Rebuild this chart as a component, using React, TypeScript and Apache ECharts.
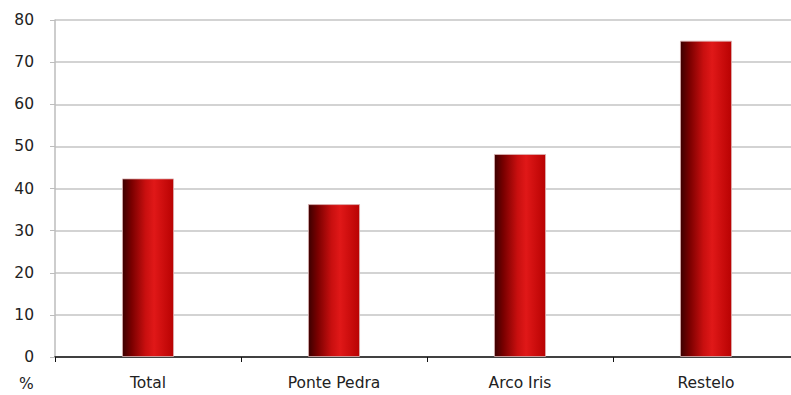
import React, { useEffect, useRef } from "react";
import * as echarts from "echarts";

const categories = ["Total", "Ponte Pedra", "Arco Iris", "Restelo"];
const values = [42.4, 36.3, 48.2, 75.1];
const yTicks = { min: 0, max: 80, interval: 10 };
const unitLabel = "%";

export default function App() {
  const ref = useRef<HTMLDivElement>(null);
  useEffect(() => {
    if (!ref.current) return;
    const chart = echarts.init(ref.current, undefined, { renderer: "svg" });
    const font = "'DejaVu Sans', sans-serif";
    chart.setOption({
      animation: false,
      grid: { left: 55, top: 20, width: 744, height: 337 },
      xAxis: {
        type: "category",
        data: categories,
        axisLine: { lineStyle: { color: "#111", width: 1.5 } },
        axisTick: { show: true, length: 5, lineStyle: { color: "#111" } },
        axisLabel: { color: "#222", fontSize: 15.5, fontFamily: font, margin: 18 },
      },
      yAxis: {
        type: "value",
        min: yTicks.min,
        max: yTicks.max,
        interval: yTicks.interval,
        axisLine: { show: true, lineStyle: { color: "#bdbdbd", width: 1.5 } },
        axisTick: { show: true, length: 5, lineStyle: { color: "#bdbdbd" } },
        axisLabel: { color: "#222", fontSize: 15.5, fontFamily: font, margin: 21 },
        splitLine: { lineStyle: { color: "#c4c4c4", width: 1.5 } },
      },
      graphic: [
        {
          type: "text",
          x: 19,
          y: 376,
          style: { text: unitLabel, fill: "#222", fontSize: 15.5, fontFamily: font },
        },
      ],
      series: [
        {
          type: "bar",
          data: values,
          barWidth: "28%",
          itemStyle: {
            borderColor: "rgba(220,180,180,0.8)",
            borderWidth: 1,
            color: new echarts.graphic.LinearGradient(0, 0, 1, 0, [
              { offset: 0, color: "#3c0000" },
              { offset: 0.18, color: "#7a0000" },
              { offset: 0.45, color: "#c80f0f" },
              { offset: 0.62, color: "#e01818" },
              { offset: 1, color: "#b80202" },
            ]),
          },
        },
      ],
    });
    return () => chart.dispose();
  }, []);
  return (
    <div style={{ position: "fixed", left: 0, top: 0, width: 791, height: 395, overflow: "hidden", background: "#fff" }}>
      <div ref={ref} style={{ width: 810, height: 395 }} />
    </div>
  );
}
